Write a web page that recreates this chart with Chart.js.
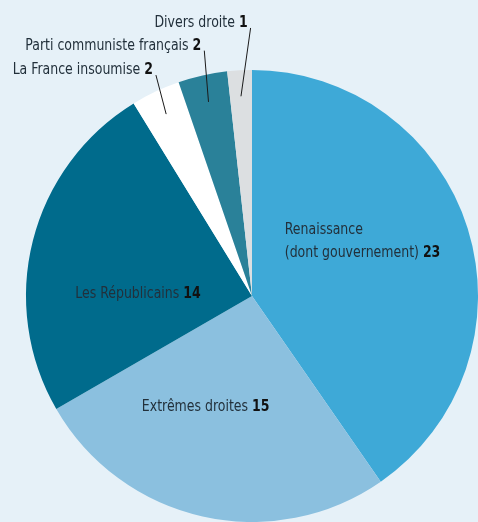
<!DOCTYPE html>
<html>
<head>
<meta charset="utf-8">
<script src="https://cdn.jsdelivr.net/npm/chart.js@4"></script>
<style>
  html, body { margin: 0; padding: 0; background: #e6f1f8; }
  #wrap { width: 478px; height: 522px; }
</style>
</head>
<body>
<div id="wrap"><canvas id="seats" width="478" height="522"></canvas></div>
<script>
// Sièges par groupe (clockwise from top)
const partyNames = [
    ['Renaissance', '(dont gouvernement)'],
    ['Extrêmes droites'],
    ['Les Républicains'],
    ['La France insoumise'],
    ['Parti communiste français'],
    ['Divers droite']
];
const seatCounts = [23, 15, 14, 2, 2, 1];

const sliceColors = ['#3ea9d7', '#8bc0df', '#006b8c', '#ffffff', '#2a8199', '#dcdfe1'];

// label placement: inside the slice, or outside with a leader line
const labelPlacement = [
    { inside: true, angle: 63, r: 0.55, align: 'left' },
    { inside: true, angle: 203, r: 0.525 },
    { inside: true, angle: 272, r: 0.505 },
    { inside: false, innerR: 0.89, outAngle: -23.5, outR: 1.066 },
    { inside: false, innerR: 0.88, outAngle: -11, outR: 1.106 },
    { inside: false, innerR: 0.885, outAngle: -0.3, outR: 1.186 }
];

const FONT_FAMILY = '"DejaVu Sans Condensed", sans-serif';
const FONT_SIZE = 16;
const SQUEEZE = 0.87;   // the original face is narrower than DejaVu Condensed
const TEXT_COLOR = '#22303b';

function drawLabel(ctx, lines, value, x, y, align) {
    const lh = 23;
    const last = lines.length - 1;
    ctx.textBaseline = 'alphabetic';
    lines.forEach((line, i) => {
        const text = i === last ? line + ' ' : line;
        ctx.font = `${FONT_SIZE}px ${FONT_FAMILY}`;
        const w1 = ctx.measureText(text).width;
        ctx.font = `bold ${FONT_SIZE}px ${FONT_FAMILY}`;
        const w2 = i === last ? ctx.measureText(String(value)).width : 0;
        const total = (w1 + w2) * SQUEEZE;
        let x0;
        if (align === 'right') x0 = x - total;
        else if (align === 'left') x0 = x;
        else x0 = x - total / 2;
        const yy = y + i * lh;
        ctx.save();
        ctx.translate(x0, yy);
        ctx.scale(SQUEEZE, 1);
        ctx.textAlign = 'left';
        ctx.font = `${FONT_SIZE}px ${FONT_FAMILY}`;
        ctx.fillStyle = TEXT_COLOR;
        ctx.fillText(text, 0, 0);
        if (i === last) {
            ctx.font = `bold ${FONT_SIZE}px ${FONT_FAMILY}`;
            ctx.fillStyle = '#111';
            ctx.fillText(String(value), w1, 0);
        }
        ctx.restore();
    });
}

const sliceLabels = {
    id: 'sliceLabels',
    afterDatasetsDraw(chart) {
        const ctx = chart.ctx;
        const meta = chart.getDatasetMeta(0);
        ctx.save();
        meta.data.forEach((arc, i) => {
            const { x, y, startAngle, endAngle, outerRadius } = arc.getProps(['x', 'y', 'startAngle', 'endAngle', 'outerRadius'], true);
            const p = labelPlacement[i];
            const lines = partyNames[i];
            if (p.inside) {
                const a = (p.angle - 90) * Math.PI / 180;
                const cx = x + Math.cos(a) * outerRadius * p.r;
                const cy = y + Math.sin(a) * outerRadius * p.r;
                const blockTop = cy - (lines.length - 1) * 23 / 2 + 6;
                if (p.align === 'left') {
                    drawLabel(ctx, lines, seatCounts[i], cx - 78, blockTop, 'left');
                } else {
                    drawLabel(ctx, lines, seatCounts[i], cx, blockTop, 'center');
                }
            } else {
                const mid = (startAngle + endAngle) / 2;
                const ix = x + Math.cos(mid) * outerRadius * p.innerR;
                const iy = y + Math.sin(mid) * outerRadius * p.innerR;
                const oa = (p.outAngle - 90) * Math.PI / 180;
                const ox = x + Math.cos(oa) * outerRadius * p.outR;
                const oy = y + Math.sin(oa) * outerRadius * p.outR;
                ctx.strokeStyle = '#1a1a1a';
                ctx.lineWidth = 1;
                ctx.beginPath();
                ctx.moveTo(ix, iy);
                ctx.lineTo(ox, oy);
                ctx.stroke();
                drawLabel(ctx, lines, seatCounts[i], ox - 3, oy - 1, 'right');
            }
        });
        ctx.restore();
    }
};

new Chart(document.getElementById('seats'), {
    type: 'pie',
    data: {
        labels: partyNames.map(l => l.join(' ')),
        datasets: [{
            data: seatCounts,
            backgroundColor: sliceColors,
            borderWidth: 0,
            hoverOffset: 0
        }]
    },
    options: {
        responsive: false,
        animation: false,
        layout: { padding: { left: 26, right: 0, top: 70, bottom: 0 } },
        plugins: {
            legend: { display: false },
            tooltip: { enabled: false }
        }
    },
    plugins: [sliceLabels]
});
</script>
</body>
</html>
